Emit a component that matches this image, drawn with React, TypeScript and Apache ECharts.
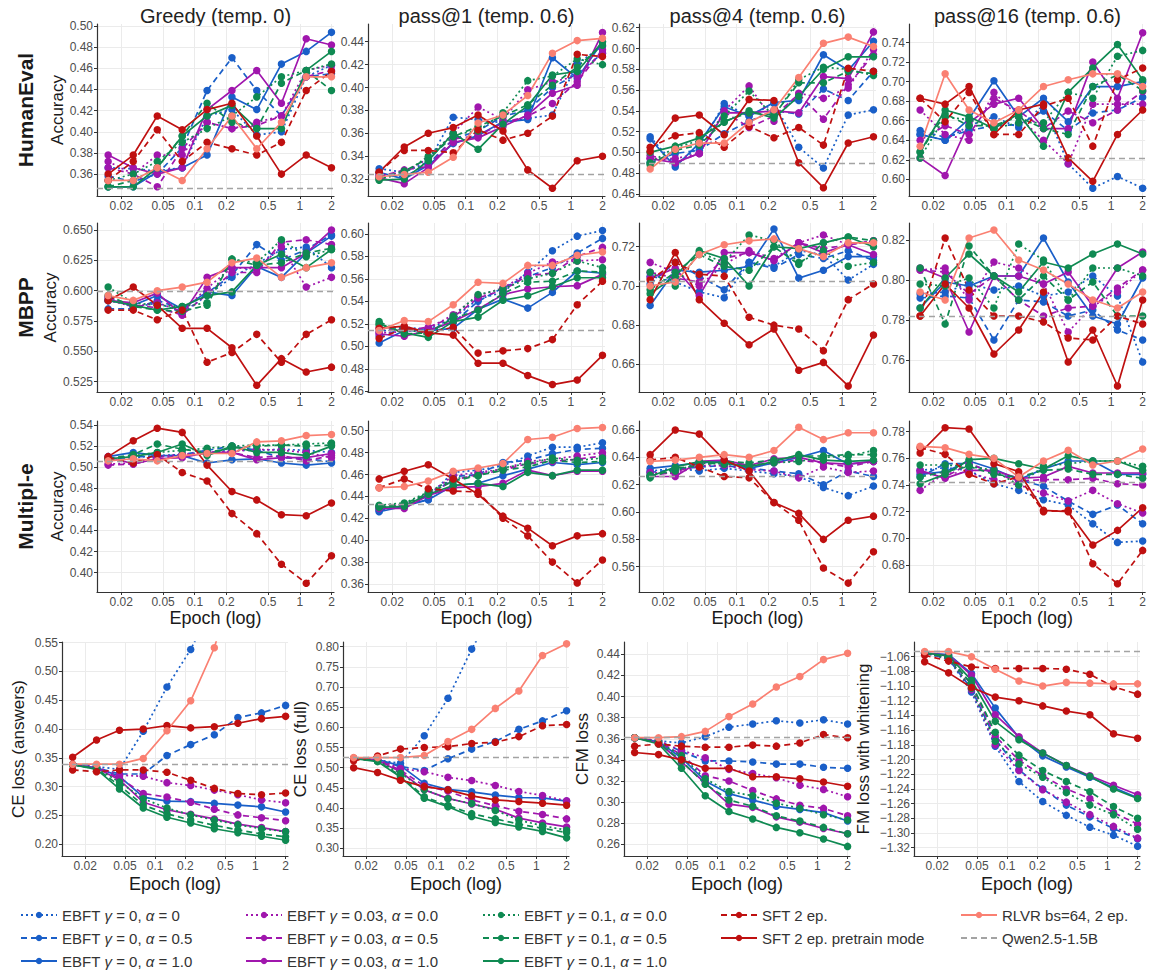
import React, { useEffect, useRef } from 'react';
import * as echarts from 'echarts';

// ---------------- DATA ----------------
const epochs = [0.015, 0.026, 0.044, 0.076, 0.131, 0.226, 0.389, 0.668, 1.15, 2];
const xTickValues = [0.02, 0.05, 0.1, 0.2, 0.5, 1, 2];
const xTickLabels = ['0.02', '0.05', '0.1', '0.2', '0.5', '1', '2'];

const seriesNames = [
  'EBFT γ = 0, α = 0',
  'EBFT γ = 0, α = 0.5',
  'EBFT γ = 0, α = 1.0',
  'EBFT γ = 0.03, α = 0.0',
  'EBFT γ = 0.03, α = 0.5',
  'EBFT γ = 0.03, α = 1.0',
  'EBFT γ = 0.1, α = 0.0',
  'EBFT γ = 0.1, α = 0.5',
  'EBFT γ = 0.1, α = 1.0',
  'SFT 2 ep.',
  'SFT 2 ep. pretrain mode',
  'RLVR bs=64, 2 ep.',
];
const baselineName = 'Qwen2.5-1.5B';

const columnTitles = ['Greedy (temp. 0)', 'pass@1 (temp. 0.6)', 'pass@4 (temp. 0.6)', 'pass@16 (temp. 0.6)'];
const rowLabels = ['HumanEval', 'MBPP', 'Multipl-e'];
const lossLabels = ['CE loss (answers)', 'CE loss (full)', 'CFM loss', 'FM loss with whitening'];

// rows follow seriesNames order
const humanEvalGreedy = [
  [0.366, 0.365, 0.363, 0.366, 0.415, 0.421, 0.397, 0.400, 0.452, 0.463],
  [0.358, 0.353, 0.360, 0.385, 0.439, 0.470, 0.439, 0.415, 0.452, 0.455],
  [0.348, 0.348, 0.362, 0.366, 0.378, 0.433, 0.421, 0.464, 0.476, 0.494],
  [0.372, 0.360, 0.378, 0.378, 0.409, 0.403, 0.409, 0.415, 0.458, 0.463],
  [0.366, 0.360, 0.348, 0.384, 0.409, 0.403, 0.406, 0.415, 0.452, 0.458],
  [0.378, 0.366, 0.360, 0.366, 0.421, 0.439, 0.458, 0.427, 0.488, 0.482],
  [0.354, 0.360, 0.372, 0.390, 0.403, 0.415, 0.433, 0.452, 0.458, 0.464],
  [0.348, 0.354, 0.366, 0.396, 0.427, 0.409, 0.403, 0.446, 0.458, 0.439],
  [0.348, 0.348, 0.366, 0.396, 0.415, 0.425, 0.403, 0.403, 0.458, 0.476],
  [0.354, 0.372, 0.402, 0.372, 0.390, 0.384, 0.378, 0.390, 0.439, 0.457],
  [0.360, 0.378, 0.415, 0.402, 0.421, 0.427, 0.396, 0.360, 0.378, 0.366],
  [0.354, 0.354, 0.366, 0.354, 0.384, 0.415, 0.384, 0.409, 0.452, 0.452],
];
const humanEvalPass1 = [
  [0.329, 0.326, 0.335, 0.374, 0.372, 0.369, 0.373, 0.376, 0.421, 0.436],
  [0.324, 0.322, 0.333, 0.355, 0.362, 0.375, 0.380, 0.400, 0.412, 0.430],
  [0.326, 0.320, 0.332, 0.351, 0.358, 0.370, 0.372, 0.426, 0.408, 0.440],
  [0.323, 0.326, 0.338, 0.360, 0.383, 0.372, 0.398, 0.405, 0.410, 0.430],
  [0.322, 0.328, 0.331, 0.355, 0.358, 0.369, 0.375, 0.386, 0.405, 0.433],
  [0.321, 0.316, 0.330, 0.352, 0.356, 0.366, 0.376, 0.395, 0.402, 0.448],
  [0.320, 0.325, 0.340, 0.359, 0.362, 0.378, 0.406, 0.410, 0.425, 0.420],
  [0.321, 0.327, 0.338, 0.357, 0.366, 0.375, 0.385, 0.402, 0.418, 0.437],
  [0.319, 0.320, 0.336, 0.360, 0.346, 0.368, 0.384, 0.411, 0.414, 0.440],
  [0.326, 0.345, 0.345, 0.343, 0.363, 0.354, 0.360, 0.375, 0.429, 0.427],
  [0.326, 0.348, 0.360, 0.365, 0.376, 0.362, 0.328, 0.312, 0.336, 0.340],
  [0.322, 0.324, 0.326, 0.339, 0.369, 0.376, 0.393, 0.430, 0.441, 0.443],
];
const humanEvalPass4 = [
  [0.515, 0.488, 0.505, 0.547, 0.535, 0.547, 0.505, 0.485, 0.536, 0.541],
  [0.490, 0.499, 0.502, 0.518, 0.530, 0.540, 0.537, 0.561, 0.550, 0.578],
  [0.513, 0.486, 0.509, 0.544, 0.535, 0.548, 0.550, 0.594, 0.579, 0.607],
  [0.494, 0.494, 0.499, 0.540, 0.564, 0.530, 0.557, 0.552, 0.562, 0.599],
  [0.497, 0.490, 0.499, 0.539, 0.524, 0.535, 0.556, 0.532, 0.565, 0.594],
  [0.494, 0.490, 0.499, 0.538, 0.538, 0.540, 0.538, 0.573, 0.571, 0.616],
  [0.490, 0.505, 0.511, 0.535, 0.559, 0.535, 0.570, 0.582, 0.580, 0.574],
  [0.488, 0.502, 0.507, 0.530, 0.538, 0.536, 0.567, 0.567, 0.578, 0.576],
  [0.500, 0.506, 0.514, 0.529, 0.540, 0.533, 0.554, 0.580, 0.592, 0.592],
  [0.505, 0.516, 0.519, 0.505, 0.525, 0.514, 0.524, 0.507, 0.581, 0.578],
  [0.501, 0.533, 0.536, 0.517, 0.551, 0.550, 0.490, 0.466, 0.509, 0.515],
  [0.484, 0.503, 0.509, 0.509, 0.529, 0.541, 0.572, 0.605, 0.611, 0.602],
];
const humanEvalPass16 = [
  [0.646, 0.640, 0.655, 0.664, 0.653, 0.676, 0.616, 0.591, 0.603, 0.591],
  [0.650, 0.643, 0.650, 0.655, 0.656, 0.670, 0.650, 0.668, 0.671, 0.684],
  [0.646, 0.640, 0.662, 0.701, 0.664, 0.683, 0.659, 0.695, 0.695, 0.700],
  [0.671, 0.646, 0.640, 0.689, 0.664, 0.640, 0.616, 0.677, 0.677, 0.677],
  [0.640, 0.655, 0.646, 0.683, 0.670, 0.652, 0.670, 0.658, 0.671, 0.690],
  [0.622, 0.604, 0.658, 0.677, 0.683, 0.652, 0.652, 0.720, 0.683, 0.750],
  [0.622, 0.664, 0.661, 0.652, 0.658, 0.658, 0.689, 0.683, 0.726, 0.732],
  [0.628, 0.667, 0.655, 0.655, 0.664, 0.652, 0.646, 0.695, 0.707, 0.691],
  [0.628, 0.671, 0.664, 0.652, 0.667, 0.634, 0.689, 0.714, 0.738, 0.702],
  [0.683, 0.659, 0.689, 0.646, 0.646, 0.675, 0.683, 0.634, 0.702, 0.714],
  [0.683, 0.677, 0.695, 0.646, 0.671, 0.677, 0.622, 0.598, 0.646, 0.671],
  [0.634, 0.708, 0.671, 0.658, 0.671, 0.695, 0.702, 0.708, 0.708, 0.695],
];
const mbppGreedy = [
  [0.595, 0.586, 0.590, 0.582, 0.596, 0.611, 0.622, 0.634, 0.636, 0.619],
  [0.585, 0.585, 0.592, 0.585, 0.598, 0.613, 0.638, 0.625, 0.634, 0.646],
  [0.592, 0.588, 0.596, 0.585, 0.599, 0.596, 0.620, 0.611, 0.631, 0.645],
  [0.592, 0.587, 0.590, 0.583, 0.602, 0.619, 0.618, 0.636, 0.603, 0.611],
  [0.594, 0.588, 0.586, 0.580, 0.597, 0.615, 0.615, 0.640, 0.642, 0.638],
  [0.592, 0.590, 0.598, 0.580, 0.611, 0.619, 0.619, 0.619, 0.631, 0.650],
  [0.603, 0.590, 0.588, 0.587, 0.590, 0.626, 0.623, 0.642, 0.628, 0.634],
  [0.596, 0.587, 0.584, 0.583, 0.588, 0.626, 0.621, 0.623, 0.631, 0.635],
  [0.592, 0.588, 0.584, 0.587, 0.596, 0.599, 0.621, 0.630, 0.619, 0.634],
  [0.584, 0.584, 0.576, 0.584, 0.541, 0.549, 0.564, 0.541, 0.564, 0.576],
  [0.592, 0.603, 0.588, 0.569, 0.569, 0.553, 0.522, 0.544, 0.533, 0.537],
  [0.596, 0.592, 0.600, 0.603, 0.607, 0.623, 0.627, 0.611, 0.619, 0.623],
];
const mbppPass1 = [
  [0.513, 0.517, 0.515, 0.525, 0.542, 0.548, 0.566, 0.585, 0.598, 0.603],
  [0.509, 0.516, 0.515, 0.521, 0.540, 0.552, 0.562, 0.570, 0.583, 0.596],
  [0.503, 0.514, 0.514, 0.516, 0.533, 0.542, 0.534, 0.548, 0.567, 0.565],
  [0.512, 0.513, 0.516, 0.528, 0.545, 0.552, 0.565, 0.575, 0.576, 0.577],
  [0.516, 0.514, 0.517, 0.526, 0.543, 0.550, 0.563, 0.565, 0.580, 0.588],
  [0.511, 0.509, 0.514, 0.522, 0.533, 0.546, 0.551, 0.553, 0.554, 0.564],
  [0.519, 0.516, 0.510, 0.527, 0.546, 0.551, 0.560, 0.565, 0.576, 0.570],
  [0.522, 0.511, 0.512, 0.525, 0.532, 0.547, 0.557, 0.558, 0.567, 0.566],
  [0.520, 0.512, 0.508, 0.522, 0.526, 0.541, 0.545, 0.553, 0.561, 0.561],
  [0.507, 0.516, 0.512, 0.517, 0.494, 0.496, 0.498, 0.506, 0.537, 0.558],
  [0.516, 0.518, 0.512, 0.510, 0.485, 0.485, 0.474, 0.466, 0.470, 0.492],
  [0.514, 0.523, 0.522, 0.537, 0.557, 0.556, 0.572, 0.572, 0.581, 0.584],
];
const mbppPass4 = [
  [0.705, 0.702, 0.697, 0.694, 0.712, 0.710, 0.718, 0.716, 0.703, 0.711],
  [0.701, 0.712, 0.705, 0.698, 0.712, 0.709, 0.716, 0.714, 0.718, 0.713],
  [0.690, 0.708, 0.707, 0.708, 0.710, 0.729, 0.704, 0.708, 0.715, 0.715],
  [0.712, 0.707, 0.700, 0.711, 0.718, 0.714, 0.722, 0.726, 0.721, 0.723],
  [0.707, 0.704, 0.702, 0.714, 0.717, 0.713, 0.722, 0.719, 0.721, 0.723],
  [0.704, 0.709, 0.695, 0.717, 0.717, 0.713, 0.722, 0.717, 0.721, 0.716],
  [0.707, 0.700, 0.717, 0.712, 0.726, 0.723, 0.712, 0.718, 0.710, 0.712],
  [0.698, 0.707, 0.716, 0.710, 0.708, 0.720, 0.711, 0.722, 0.725, 0.723],
  [0.696, 0.705, 0.718, 0.714, 0.700, 0.720, 0.719, 0.722, 0.725, 0.720],
  [0.703, 0.712, 0.706, 0.705, 0.684, 0.680, 0.678, 0.667, 0.693, 0.701],
  [0.693, 0.717, 0.693, 0.681, 0.670, 0.678, 0.657, 0.661, 0.649, 0.675],
  [0.700, 0.702, 0.716, 0.721, 0.723, 0.724, 0.719, 0.715, 0.722, 0.722],
];
const mbppPass16 = [
  [0.793, 0.794, 0.798, 0.795, 0.797, 0.792, 0.794, 0.802, 0.792, 0.759],
  [0.791, 0.792, 0.791, 0.770, 0.790, 0.789, 0.782, 0.785, 0.775, 0.770],
  [0.786, 0.799, 0.797, 0.802, 0.802, 0.821, 0.799, 0.782, 0.778, 0.801],
  [0.805, 0.806, 0.790, 0.809, 0.806, 0.798, 0.774, 0.787, 0.794, 0.805],
  [0.805, 0.804, 0.793, 0.802, 0.790, 0.782, 0.786, 0.787, 0.796, 0.805],
  [0.806, 0.801, 0.774, 0.802, 0.802, 0.798, 0.804, 0.787, 0.806, 0.814],
  [0.798, 0.797, 0.801, 0.786, 0.818, 0.810, 0.790, 0.806, 0.806, 0.802],
  [0.806, 0.778, 0.817, 0.802, 0.790, 0.802, 0.790, 0.799, 0.782, 0.782],
  [0.786, 0.801, 0.813, 0.802, 0.794, 0.809, 0.806, 0.813, 0.818, 0.813],
  [0.782, 0.821, 0.795, 0.782, 0.782, 0.779, 0.771, 0.770, 0.782, 0.778],
  [0.782, 0.798, 0.786, 0.763, 0.775, 0.794, 0.759, 0.775, 0.747, 0.790],
  [0.794, 0.790, 0.821, 0.825, 0.810, 0.805, 0.798, 0.790, 0.786, 0.794],
];
const multipleGreedy = [
  [0.508, 0.509, 0.511, 0.512, 0.514, 0.516, 0.516, 0.517, 0.516, 0.514],
  [0.507, 0.510, 0.510, 0.512, 0.516, 0.520, 0.516, 0.509, 0.508, 0.505],
  [0.510, 0.514, 0.511, 0.511, 0.504, 0.507, 0.508, 0.504, 0.502, 0.504],
  [0.503, 0.504, 0.510, 0.512, 0.514, 0.515, 0.517, 0.516, 0.514, 0.509],
  [0.502, 0.503, 0.508, 0.511, 0.513, 0.514, 0.509, 0.511, 0.506, 0.511],
  [0.510, 0.503, 0.508, 0.509, 0.514, 0.514, 0.507, 0.509, 0.509, 0.513],
  [0.507, 0.511, 0.514, 0.516, 0.518, 0.520, 0.521, 0.521, 0.522, 0.523],
  [0.508, 0.512, 0.522, 0.517, 0.514, 0.518, 0.520, 0.521, 0.520, 0.521],
  [0.508, 0.510, 0.514, 0.522, 0.511, 0.520, 0.514, 0.514, 0.511, 0.520],
  [0.509, 0.504, 0.512, 0.495, 0.487, 0.456, 0.437, 0.408, 0.390, 0.416],
  [0.510, 0.525, 0.537, 0.533, 0.502, 0.477, 0.469, 0.455, 0.454, 0.466],
  [0.506, 0.508, 0.506, 0.511, 0.513, 0.513, 0.524, 0.525, 0.530, 0.531],
];
const multiplePass1 = [
  [0.428, 0.432, 0.440, 0.462, 0.464, 0.468, 0.477, 0.485, 0.485, 0.489],
  [0.427, 0.432, 0.437, 0.458, 0.460, 0.471, 0.473, 0.479, 0.483, 0.484],
  [0.426, 0.431, 0.437, 0.450, 0.452, 0.459, 0.465, 0.471, 0.469, 0.471],
  [0.430, 0.432, 0.442, 0.459, 0.462, 0.465, 0.472, 0.474, 0.477, 0.480],
  [0.431, 0.430, 0.441, 0.455, 0.460, 0.464, 0.470, 0.472, 0.474, 0.477],
  [0.429, 0.429, 0.441, 0.448, 0.449, 0.452, 0.464, 0.459, 0.463, 0.463],
  [0.432, 0.434, 0.444, 0.456, 0.459, 0.466, 0.470, 0.475, 0.473, 0.475],
  [0.431, 0.433, 0.443, 0.454, 0.459, 0.464, 0.467, 0.473, 0.471, 0.472],
  [0.430, 0.431, 0.442, 0.450, 0.452, 0.449, 0.462, 0.459, 0.464, 0.464],
  [0.448, 0.456, 0.447, 0.445, 0.444, 0.420, 0.404, 0.380, 0.361, 0.382],
  [0.456, 0.463, 0.469, 0.456, 0.442, 0.422, 0.411, 0.395, 0.404, 0.406],
  [0.448, 0.449, 0.454, 0.463, 0.466, 0.470, 0.492, 0.494, 0.502, 0.503],
];
const multiplePass4 = [
  [0.630, 0.632, 0.630, 0.632, 0.630, 0.628, 0.626, 0.618, 0.612, 0.619],
  [0.629, 0.631, 0.633, 0.634, 0.632, 0.630, 0.628, 0.620, 0.630, 0.626],
  [0.632, 0.634, 0.636, 0.637, 0.632, 0.636, 0.640, 0.645, 0.635, 0.637],
  [0.629, 0.628, 0.634, 0.634, 0.631, 0.630, 0.625, 0.633, 0.629, 0.630],
  [0.627, 0.629, 0.636, 0.636, 0.634, 0.636, 0.638, 0.636, 0.633, 0.637],
  [0.626, 0.626, 0.637, 0.638, 0.634, 0.639, 0.640, 0.636, 0.635, 0.637],
  [0.627, 0.630, 0.636, 0.635, 0.634, 0.636, 0.637, 0.640, 0.641, 0.645],
  [0.625, 0.632, 0.634, 0.637, 0.636, 0.638, 0.641, 0.641, 0.642, 0.642],
  [0.626, 0.633, 0.637, 0.636, 0.633, 0.637, 0.642, 0.638, 0.637, 0.638],
  [0.638, 0.640, 0.633, 0.626, 0.625, 0.607, 0.594, 0.559, 0.548, 0.571],
  [0.642, 0.660, 0.657, 0.638, 0.630, 0.607, 0.599, 0.580, 0.594, 0.597],
  [0.637, 0.638, 0.640, 0.642, 0.640, 0.645, 0.662, 0.653, 0.658, 0.658],
];
const multiplePass16 = [
  [0.751, 0.753, 0.751, 0.741, 0.736, 0.729, 0.725, 0.711, 0.697, 0.698],
  [0.746, 0.756, 0.756, 0.749, 0.744, 0.739, 0.728, 0.718, 0.725, 0.711],
  [0.748, 0.750, 0.758, 0.752, 0.744, 0.752, 0.758, 0.758, 0.748, 0.748],
  [0.736, 0.749, 0.749, 0.744, 0.740, 0.734, 0.728, 0.736, 0.726, 0.719],
  [0.750, 0.746, 0.756, 0.749, 0.743, 0.744, 0.744, 0.745, 0.741, 0.740],
  [0.751, 0.745, 0.751, 0.751, 0.745, 0.746, 0.754, 0.749, 0.749, 0.749],
  [0.755, 0.755, 0.754, 0.751, 0.740, 0.754, 0.756, 0.758, 0.758, 0.754],
  [0.746, 0.750, 0.754, 0.748, 0.746, 0.751, 0.752, 0.748, 0.748, 0.745],
  [0.741, 0.748, 0.759, 0.760, 0.756, 0.752, 0.762, 0.758, 0.758, 0.751],
  [0.768, 0.763, 0.748, 0.741, 0.746, 0.720, 0.721, 0.681, 0.666, 0.691],
  [0.764, 0.783, 0.782, 0.756, 0.750, 0.721, 0.720, 0.695, 0.706, 0.723],
  [0.769, 0.768, 0.763, 0.760, 0.746, 0.758, 0.766, 0.755, 0.758, 0.767],
];
const ceLossAnswers = [
  [0.339, 0.335, 0.330, 0.396, 0.473, 0.538, 0.620, 0.700, 0.780, 0.850],
  [0.338, 0.333, 0.322, 0.322, 0.354, 0.373, 0.390, 0.420, 0.428, 0.441],
  [0.338, 0.333, 0.318, 0.282, 0.275, 0.274, 0.271, 0.268, 0.265, 0.256],
  [0.338, 0.334, 0.320, 0.318, 0.307, 0.302, 0.294, 0.286, 0.277, 0.272],
  [0.338, 0.333, 0.315, 0.288, 0.282, 0.273, 0.261, 0.251, 0.246, 0.241],
  [0.338, 0.332, 0.312, 0.273, 0.260, 0.252, 0.244, 0.235, 0.229, 0.222],
  [0.338, 0.332, 0.308, 0.279, 0.263, 0.251, 0.242, 0.234, 0.227, 0.222],
  [0.338, 0.331, 0.302, 0.268, 0.253, 0.242, 0.233, 0.225, 0.218, 0.213],
  [0.338, 0.330, 0.296, 0.263, 0.247, 0.237, 0.227, 0.220, 0.214, 0.207],
  [0.329, 0.326, 0.329, 0.329, 0.325, 0.311, 0.297, 0.288, 0.286, 0.289],
  [0.351, 0.381, 0.398, 0.400, 0.406, 0.402, 0.404, 0.410, 0.418, 0.422],
  [0.339, 0.339, 0.339, 0.349, 0.397, 0.449, 0.541, 0.680, 0.800, 0.880],
];
const ceLossFull = [
  [0.523, 0.519, 0.511, 0.579, 0.672, 0.794, 0.900, 1.000, 1.100, 1.200],
  [0.523, 0.518, 0.503, 0.493, 0.522, 0.546, 0.565, 0.595, 0.616, 0.641],
  [0.523, 0.520, 0.505, 0.461, 0.446, 0.440, 0.432, 0.426, 0.425, 0.417],
  [0.523, 0.520, 0.498, 0.490, 0.476, 0.468, 0.456, 0.441, 0.431, 0.418],
  [0.523, 0.519, 0.494, 0.455, 0.442, 0.420, 0.406, 0.392, 0.384, 0.373],
  [0.523, 0.518, 0.490, 0.445, 0.424, 0.410, 0.397, 0.375, 0.363, 0.353],
  [0.523, 0.517, 0.486, 0.446, 0.423, 0.411, 0.394, 0.370, 0.356, 0.345],
  [0.523, 0.516, 0.480, 0.428, 0.406, 0.386, 0.373, 0.360, 0.350, 0.339],
  [0.523, 0.515, 0.477, 0.424, 0.403, 0.379, 0.364, 0.353, 0.342, 0.326],
  [0.517, 0.529, 0.546, 0.550, 0.552, 0.560, 0.563, 0.577, 0.604, 0.607],
  [0.500, 0.488, 0.469, 0.453, 0.445, 0.430, 0.420, 0.416, 0.412, 0.407],
  [0.525, 0.525, 0.525, 0.530, 0.565, 0.595, 0.647, 0.690, 0.778, 0.807],
];
const cfmLoss = [
  [0.361, 0.358, 0.356, 0.362, 0.371, 0.374, 0.377, 0.375, 0.378, 0.374],
  [0.361, 0.358, 0.348, 0.339, 0.339, 0.338, 0.336, 0.336, 0.333, 0.332],
  [0.361, 0.357, 0.342, 0.320, 0.308, 0.302, 0.296, 0.293, 0.290, 0.282],
  [0.361, 0.358, 0.349, 0.342, 0.331, 0.327, 0.323, 0.316, 0.312, 0.305],
  [0.361, 0.357, 0.345, 0.325, 0.320, 0.311, 0.303, 0.297, 0.294, 0.287],
  [0.361, 0.356, 0.338, 0.318, 0.298, 0.295, 0.286, 0.281, 0.275, 0.270],
  [0.361, 0.357, 0.344, 0.322, 0.310, 0.306, 0.299, 0.294, 0.288, 0.283],
  [0.361, 0.356, 0.339, 0.317, 0.302, 0.296, 0.287, 0.282, 0.276, 0.270],
  [0.361, 0.355, 0.332, 0.306, 0.291, 0.284, 0.276, 0.271, 0.265, 0.258],
  [0.353, 0.355, 0.353, 0.352, 0.352, 0.354, 0.353, 0.356, 0.364, 0.361],
  [0.347, 0.345, 0.340, 0.332, 0.332, 0.324, 0.324, 0.322, 0.319, 0.315],
  [0.361, 0.361, 0.362, 0.367, 0.381, 0.393, 0.409, 0.419, 0.435, 0.441],
];
const fmLossWhitening = [
  [-1.055, -1.063, -1.108, -1.182, -1.230, -1.257, -1.276, -1.292, -1.303, -1.318],
  [-1.055, -1.063, -1.104, -1.172, -1.214, -1.240, -1.262, -1.278, -1.294, -1.308],
  [-1.055, -1.057, -1.083, -1.130, -1.170, -1.195, -1.210, -1.224, -1.238, -1.252],
  [-1.055, -1.062, -1.105, -1.180, -1.215, -1.241, -1.258, -1.275, -1.291, -1.307],
  [-1.055, -1.061, -1.098, -1.168, -1.201, -1.222, -1.240, -1.253, -1.272, -1.288],
  [-1.055, -1.058, -1.085, -1.139, -1.169, -1.191, -1.208, -1.222, -1.235, -1.248],
  [-1.055, -1.062, -1.103, -1.175, -1.206, -1.224, -1.245, -1.262, -1.275, -1.295],
  [-1.055, -1.061, -1.097, -1.163, -1.194, -1.215, -1.230, -1.244, -1.264, -1.280],
  [-1.055, -1.059, -1.092, -1.148, -1.173, -1.191, -1.208, -1.223, -1.240, -1.253],
  [-1.058, -1.066, -1.074, -1.076, -1.076, -1.076, -1.077, -1.084, -1.101, -1.111],
  [-1.067, -1.082, -1.102, -1.115, -1.120, -1.127, -1.134, -1.139, -1.165, -1.171],
  [-1.053, -1.053, -1.060, -1.077, -1.093, -1.100, -1.095, -1.096, -1.097, -1.097],
];

const panelValues = [
  humanEvalGreedy, humanEvalPass1, humanEvalPass4, humanEvalPass16,
  mbppGreedy, mbppPass1, mbppPass4, mbppPass16,
  multipleGreedy, multiplePass1, multiplePass4, multiplePass16,
  ceLossAnswers, ceLossFull, cfmLoss, fmLossWhitening,
];
const qwenBaseline = [
  0.347, 0.3245, 0.490, 0.622,
  0.5995, 0.514, 0.7025, 0.782,
  0.506, 0.433, 0.626, 0.742,
  0.339, 0.5257, 0.361, -1.053,
];
const yTickValues = [
  [0.36, 0.38, 0.40, 0.42, 0.44, 0.46, 0.48, 0.50],
  [0.32, 0.34, 0.36, 0.38, 0.40, 0.42, 0.44],
  [0.46, 0.48, 0.50, 0.52, 0.54, 0.56, 0.58, 0.60, 0.62],
  [0.60, 0.62, 0.64, 0.66, 0.68, 0.70, 0.72, 0.74],
  [0.525, 0.55, 0.575, 0.60, 0.625, 0.65],
  [0.46, 0.48, 0.50, 0.52, 0.54, 0.56, 0.58, 0.60],
  [0.66, 0.68, 0.70, 0.72],
  [0.76, 0.78, 0.80, 0.82],
  [0.40, 0.42, 0.44, 0.46, 0.48, 0.50, 0.52, 0.54],
  [0.36, 0.38, 0.40, 0.42, 0.44, 0.46, 0.48, 0.50],
  [0.56, 0.58, 0.60, 0.62, 0.64, 0.66],
  [0.68, 0.70, 0.72, 0.74, 0.76, 0.78],
  [0.20, 0.25, 0.30, 0.35, 0.40, 0.45, 0.50, 0.55],
  [0.30, 0.35, 0.40, 0.45, 0.50, 0.55, 0.60, 0.65, 0.70, 0.75, 0.80],
  [0.26, 0.28, 0.30, 0.32, 0.34, 0.36, 0.38, 0.40, 0.42, 0.44],
  [-1.32, -1.30, -1.28, -1.26, -1.24, -1.22, -1.20, -1.18, -1.16, -1.14, -1.12, -1.10, -1.08, -1.06],
];

// ---------------- LAYOUT / STYLE ----------------
const FONT = '"Liberation Sans", Arial, Helvetica, sans-serif';
const BLUE = '#1a5fc8';
const PURPLE = '#a016ad';
const GREEN = '#0f8a52';
const RED = '#bf1010';
const SALMON = '#fa8072';
const GREY = '#a3a3a3';
const AXIS = '#333333';
const TICK = '#4d4d4d';
const GRIDC = '#ebebeb';
const TITLE = '#1a1a1a';

const seriesColors = [BLUE, BLUE, BLUE, PURPLE, PURPLE, PURPLE, GREEN, GREEN, GREEN, RED, RED, SALMON];
const DOT = [2, 3];
const DASH = [6, 4];
const seriesDash: any[] = [DOT, DASH, 'solid', DOT, DASH, 'solid', DOT, DASH, 'solid', DASH, 'solid', 'solid'];

const X_MIN = -1.93;
const X_MAX = 0.325;
const topLefts = [97, 368, 639, 909];
const topWidth = 237;
const rowTops = [24, 223, 421];
const rowHeights = [172, 169, 171];
const bottomLefts = [62, 343, 624, 914];
const bottomWidth = 226;
const bottomTop = 642;
const bottomHeight = 214;
const yRanges = [
  [0.3393, 0.5019], [0.3052, 0.4555], [0.458, 0.6236], [0.583, 0.759],
  [0.5165, 0.6558], [0.4594, 0.6097], [0.6459, 0.7321], [0.744, 0.8285],
  [0.3817, 0.5438], [0.3527, 0.5089], [0.5415, 0.6666], [0.6598, 0.788],
  [0.1797, 0.551], [0.281, 0.8116], [0.2489, 0.4517], [-1.3313, -1.04],
];
const bottomNameGaps = [35, 34, 33, 42];

function fmtY(v: number, dec: number) {
  const s = Math.abs(v).toFixed(dec);
  return v < 0 ? '\u2212' + s : s;
}

function buildOption() {
  const grid: any[] = [];
  const xAxis: any[] = [];
  const yAxis: any[] = [];
  const series: any[] = [];
  const xTickPos = xTickValues.map((t) => Math.log10(t));
  const xFormatter = (v: number) => {
    const i = xTickPos.findIndex((t) => Math.abs(t - v) < 1e-6);
    return i >= 0 ? xTickLabels[i] : '';
  };

  panelValues.forEach((vals, p) => {
    const bottom = p >= 12;
    const col = p % 4;
    const row = Math.floor(p / 4);
    const left = bottom ? bottomLefts[col] : topLefts[col];
    const top = bottom ? bottomTop : rowTops[row];
    const width = bottom ? bottomWidth : topWidth;
    const height = bottom ? bottomHeight : rowHeights[row];
    grid.push({ left, top, width, height, show: false });

    const hasXName = bottom || row === 2;
    xAxis.push({
      type: 'value',
      gridIndex: p,
      min: X_MIN,
      max: X_MAX,
      axisLine: { show: true, onZero: false, lineStyle: { color: AXIS, width: 1.2 } },
      axisTick: { show: true, length: 3, customValues: xTickPos, lineStyle: { color: AXIS } },
      axisLabel: { customValues: xTickPos, formatter: xFormatter, fontSize: 12, color: TICK, margin: 4, fontFamily: FONT },
      splitLine: { show: true, lineStyle: { color: GRIDC, width: 1 } },
      name: hasXName ? 'Epoch (log)' : '',
      nameLocation: 'middle',
      nameGap: bottom ? 19 : 16,
      nameTextStyle: { fontSize: 18, color: TITLE, fontFamily: FONT, verticalAlign: 'top' },
    });

    const dec = p === 4 ? 3 : 2;
    let yName = '';
    let yGap = 30;
    if (bottom) {
      yName = lossLabels[col];
      yGap = bottomNameGaps[col];
    } else if (col === 0) {
      yName = 'Accuracy';
    }
    yAxis.push({
      type: 'value',
      gridIndex: p,
      min: yRanges[p][0],
      max: yRanges[p][1],
      axisLine: { show: true, onZero: false, lineStyle: { color: AXIS, width: 1.2 } },
      axisTick: { show: true, length: 3, customValues: yTickValues[p], lineStyle: { color: AXIS } },
      axisLabel: {
        customValues: yTickValues[p],
        formatter: (v: number) => fmtY(v, dec),
        fontSize: 12,
        color: TICK,
        margin: 4,
        fontFamily: FONT,
      },
      splitLine: { show: true, lineStyle: { color: GRIDC, width: 1 } },
      name: yName,
      nameLocation: 'middle',
      nameRotate: 90,
      nameGap: yGap,
      nameTextStyle: { fontSize: 17, color: TITLE, fontFamily: FONT },
    });

    series.push({
      name: baselineName,
      type: 'line',
      xAxisIndex: p,
      yAxisIndex: p,
      data: [],
      symbol: 'none',
      lineStyle: { color: GREY, type: DASH, width: 1.4 },
      itemStyle: { color: GREY, opacity: 0 },
      z: 1,
      markLine: {
        silent: true,
        precision: 6,
        symbol: ['none', 'none'],
        label: { show: false },
        lineStyle: { color: GREY, type: DASH, width: 1.4, opacity: 1 },
        emphasis: { disabled: true },
        data: [{ yAxis: qwenBaseline[p] }],
      },
    });

    vals.forEach((ys, s) => {
      series.push({
        name: seriesNames[s],
        type: 'line',
        xAxisIndex: p,
        yAxisIndex: p,
        data: epochs.map((e, i) => [Math.log10(e), ys[i]]),
        symbol: 'circle',
        symbolSize: 7.5,
        showAllSymbol: true,
        clip: true,
        lineStyle: { color: seriesColors[s], width: 1.7, type: seriesDash[s] },
        itemStyle: { color: seriesColors[s] },
        emphasis: { disabled: true },
        z: 2,
      });
    });
  });

  const legendGroups: any[][] = [
    [seriesNames[0], seriesNames[1], seriesNames[2]],
    [seriesNames[3], seriesNames[4], seriesNames[5]],
    [seriesNames[6], seriesNames[7], seriesNames[8]],
    [seriesNames[9], seriesNames[10]],
    [seriesNames[11], { name: baselineName, itemStyle: { opacity: 0 } }],
  ];
  const legendLefts = [20, 245, 482, 720, 960];
  const legend = legendGroups.map((names, k) => ({
    data: names,
    orient: 'vertical',
    left: legendLefts[k],
    top: 907,
    padding: 0,
    itemWidth: 36,
    itemHeight: 8,
    itemGap: 7,
    selectedMode: false,
    formatter: (name: string) => name.replace(/([γα])/g, '{i|$1}'),
    textStyle: {
      fontSize: 15,
      color: '#333333',
      fontFamily: FONT,
      lineHeight: 16,
      rich: { i: { fontStyle: 'italic', fontSize: 15, fontFamily: FONT, color: '#333333', lineHeight: 16 } },
    },
  }));

  const colCenters = topLefts.map((l) => l + topWidth / 2);
  const rowCenters = rowTops.map((t, i) => t + rowHeights[i] / 2);
  const graphic: any[] = [];
  columnTitles.forEach((t, i) => {
    graphic.push({
      type: 'text',
      x: colCenters[i],
      y: 16,
      style: { text: t, fontSize: 20, fontFamily: FONT, fill: '#222222', align: 'center', verticalAlign: 'middle', textAlign: 'center', textVerticalAlign: 'middle' },
    });
  });
  rowLabels.forEach((t, i) => {
    graphic.push({
      type: 'text',
      x: 25,
      y: rowCenters[i],
      rotation: Math.PI / 2,
      style: { text: t, fontSize: 21, fontWeight: 'bold', fontFamily: FONT, fill: '#1a1a1a', align: 'center', verticalAlign: 'middle', textAlign: 'center', textVerticalAlign: 'middle' },
    });
  });

  return {
    animation: false,
    backgroundColor: '#ffffff',
    textStyle: { fontFamily: FONT },
    grid,
    xAxis,
    yAxis,
    series,
    legend,
    graphic,
  };
}

export default function App() {
  const ref = useRef<HTMLDivElement>(null);
  useEffect(() => {
    if (!ref.current) return;
    const chart = echarts.init(ref.current, null, { renderer: 'svg' });
    chart.setOption(buildOption() as any);
    return () => chart.dispose();
  }, []);
  return <div ref={ref} style={{ position: 'absolute', left: 0, top: 0, width: 1149, height: 971 }} />;
}
